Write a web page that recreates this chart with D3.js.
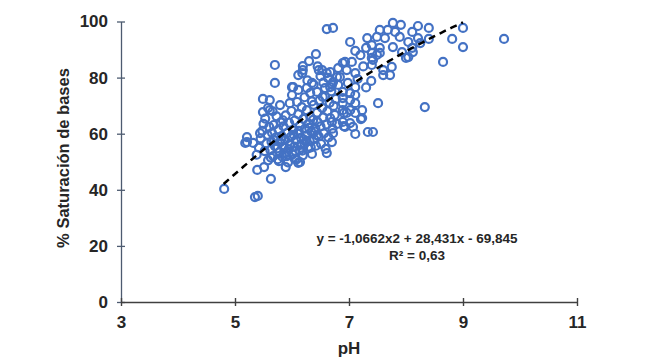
<!DOCTYPE html>
<html><head><meta charset="utf-8">
<script src="https://cdn.jsdelivr.net/npm/d3@7"></script>
<style>
html,body{margin:0;padding:0;background:#fff;}
svg text{font-family:"Liberation Sans",Arial,sans-serif;font-weight:bold;fill:#262626;}
</style></head>
<body>
<svg id="c" width="650" height="362"></svg>
<script>
// ---- data ----
const phValues = [
4.81,5.35,5.40,5.63,5.39,5.51,5.89,6.11,6.61,7.42,5.70,5.70,6.61,6.72,7.02,7.11,9.72,9.00,9.00,8.81,
8.65,8.33,7.51,7.39,7.21,7.77,7.91,8.21,8.40,7.54,7.68,7.81,8.11,7.32,7.49,7.63,7.89,8.04,8.21,8.40,
7.30,7.40,7.54,7.77,7.93,8.11,8.25,7.40,7.49,7.54,7.40,7.42,8.00,8.04,8.12,7.75,7.60,7.60,7.72,7.40,
6.91,7.07,7.11,7.23,7.11,6.91,6.70,6.72,5.49,5.21,5.32,5.21,5.49,5.61,5.61,6.00,6.42,6.30,6.19,6.19,
6.11,6.18,6.47,6.61,6.93,7.05,6.81,6.96,7.11,6.79,6.72,6.81,6.67,6.98,7.11,7.02,7.11,6.89,7.02,7.11,
6.89,7.02,6.89,7.02,6.53,6.67,6.63,6.89,6.84,6.02,6.00,6.11,6.26,6.35,6.32,6.44,6.58,6.54,6.70,5.58,
5.79,5.96,6.09,6.89,6.89,7.23,6.96,6.93,7.33,6.70,6.44,6.14,5.18,
5.38,5.42,5.45,5.48,5.50,5.52,5.55,5.57,5.58,5.60,5.44,5.53,
5.62,5.64,5.65,5.67,5.68,5.70,5.72,5.73,5.75,5.76,5.78,5.79,5.80,5.66,
5.82,5.83,5.85,5.86,5.88,5.89,5.90,5.92,5.93,5.95,5.96,5.98,5.99,5.84,
6.01,6.02,6.04,6.05,6.07,6.08,6.10,6.11,6.13,6.14,6.16,6.17,6.19,6.20,
6.22,6.23,6.25,6.26,6.28,6.29,6.31,6.32,6.34,6.35,6.37,6.38,6.39,
6.41,6.42,6.44,6.45,6.47,6.48,6.50,6.51,6.53,6.55,6.56,6.58,6.59,
6.61,6.62,6.64,6.66,6.67,6.69,6.71,6.73,6.75,6.77,6.79,
6.27,6.38,6.50,6.45,6.55,6.22,6.35,7.15,7.25,7.30,7.20,
5.74,5.87,5.97,6.06,6.15,6.24,6.33,5.69,5.81,5.94,6.03,6.12,6.21,6.30,6.40,5.63,5.77,5.91,6.05,6.18
];
const satValues = [
40.3,37.4,37.8,43.9,47.1,48.1,48.1,49.6,53.1,60.6,84.5,78.1,97.3,97.7,92.7,89.5,93.8,97.7,90.9,93.8,
85.6,69.5,70.9,78.8,65.2,99.5,98.8,98.4,97.7,97.0,97.0,96.3,96.3,94.1,94.5,94.1,94.5,92.7,94.1,93.8,
90.6,91.6,90.6,90.9,89.1,90.6,92.3,88.8,88.1,88.8,87.0,86.3,87.0,87.3,89.1,83.8,82.7,80.9,80.9,84.5,
62.7,62.4,59.9,65.6,67.4,67.4,64.2,60.2,67.7,58.8,56.7,57.0,72.4,72.0,68.4,76.6,88.4,85.9,84.1,82.7,
80.9,81.6,82.7,81.6,85.6,85.6,83.4,82.7,81.6,80.2,78.4,77.4,76.6,78.1,76.6,74.5,73.8,70.9,72.0,70.9,
68.4,68.4,64.2,63.8,82.7,82.0,79.9,85.2,80.2,76.6,73.8,75.6,76.3,78.1,74.5,74.9,76.3,73.1,77.4,69.2,
70.2,70.9,71.3,74.9,72.7,68.4,67.4,62.4,60.6,57.0,59.5,49.9,56.7,
52.5,55.0,58.3,61.0,63.5,53.8,56.5,59.6,50.5,62.4,60.2,65.4,
54.2,57.1,60.3,52.0,63.1,55.6,58.7,66.2,50.9,61.5,53.5,56.9,64.0,68.0,
59.1,51.8,62.6,55.0,57.8,66.5,53.2,60.4,49.8,63.9,56.3,58.9,68.1,64.8,
52.6,61.2,55.4,64.7,57.7,50.8,60.0,67.0,54.1,62.9,58.5,69.5,52.3,65.3,
56.4,61.8,59.3,68.4,54.8,63.6,57.5,66.0,60.7,52.8,64.9,70.3,58.1,
61.9,55.7,67.5,64.1,59.0,71.8,62.6,56.4,69.2,65.8,60.1,73.3,54.6,
63.3,68.0,58.7,71.0,65.6,75.1,61.8,69.9,66.7,72.4,63.5,
79.0,77.5,80.5,84.0,78.2,73.0,71.5,79.5,84.0,76.5,88.0,
54.8,53.1,55.9,53.8,56.0,57.2,55.1,57.6,58.0,54.5,59.6,61.0,57.9,62.1,60.8,51.5,50.2,52.0,51.0,54.0
];
const trendCoef = [-1.0662, 28.431, -69.845]; // a, b, c
const trendRange = [4.8, 9.0];
const xTicks = [3, 5, 7, 9, 11];
const yTicks = [0, 20, 40, 60, 80, 100];
const xTitle = "pH";
const yTitle = "% Saturación de bases";
const eqLines = ["y = -1,0662x2 + 28,431x  - 69,845", "R² = 0,63"];

// ---- chart ----
const svg = d3.select("#c");
const x = d3.scaleLinear().domain([3, 11]).range([121, 577]);
const y = d3.scaleLinear().domain([0, 100]).range([302, 21.5]);

// y axis
const gy = svg.append("g").attr("transform", "translate(121,0)")
  .call(d3.axisLeft(y).tickValues(yTicks).tickSizeOuter(0).tickSizeInner(4));
gy.select(".domain").attr("stroke", "#4d5b70").attr("stroke-width", 1.3);
gy.selectAll(".tick line").attr("x1", 4).attr("x2", -4).attr("stroke", "#4d5b70").attr("stroke-width", 1.3);
gy.selectAll(".tick text").attr("x", -13).style("font-size", "17px")
  .style("font-family", "'Liberation Sans',Arial,sans-serif").style("font-weight", "bold").attr("fill", "#262626");

// x axis
const gx = svg.append("g").attr("transform", "translate(0,302)")
  .call(d3.axisBottom(x).tickValues(xTicks).tickSizeOuter(0).tickSizeInner(4));
gx.select(".domain").attr("stroke", "#404040").attr("stroke-width", 1.6);
gx.selectAll(".tick line").attr("y1", -4).attr("y2", 4).attr("stroke", "#404040").attr("stroke-width", 1.4);
gx.selectAll(".tick text").attr("y", 14).style("font-size", "17px")
  .style("font-family", "'Liberation Sans',Arial,sans-serif").style("font-weight", "bold").attr("fill", "#262626");

// points
svg.append("g").selectAll("circle")
  .data(phValues.map((v, i) => [v, satValues[i]]))
  .join("circle")
  .attr("cx", d => x(d[0])).attr("cy", d => y(d[1]))
  .attr("r", 4).attr("fill", "none")
  .attr("stroke", "#4472C4").attr("stroke-width", 2.2);

// trend line
const tx = d3.range(trendRange[0], trendRange[1] + 0.0001, 0.05);
const line = d3.line().x(d => x(d)).y(d => y(trendCoef[0] * d * d + trendCoef[1] * d + trendCoef[2]));
svg.append("path").datum(tx).attr("d", line)
  .attr("fill", "none").attr("stroke", "#000").attr("stroke-width", 2.5)
  .attr("stroke-dasharray", "7,5");

// titles
svg.append("text").attr("x", 349).attr("y", 354).attr("text-anchor", "middle")
  .style("font-size", "17px").text(xTitle);
svg.append("text").attr("transform", "translate(69,158) rotate(-90)").attr("text-anchor", "middle")
  .style("font-size", "16.5px").text(yTitle);

// equation
svg.append("text").attr("x", 417).attr("y", 243).attr("text-anchor", "middle")
  .style("font-size", "13.5px").text(eqLines[0]);
svg.append("text").attr("x", 417).attr("y", 259.5).attr("text-anchor", "middle")
  .style("font-size", "13.5px").text(eqLines[1]);
</script>
</body></html>
